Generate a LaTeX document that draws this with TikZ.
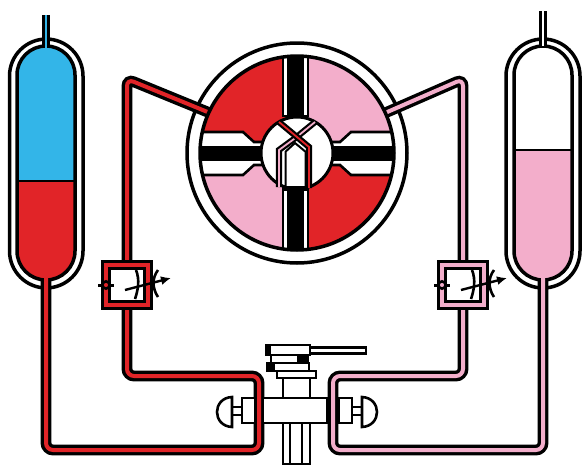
\documentclass[tikz,border=0pt]{standalone}
\usepackage{xcolor}
\usetikzlibrary{arrows.meta}
\definecolor{gasblue}{HTML}{33B5E8}
\definecolor{gasred}{HTML}{E12428}
\definecolor{gaspink}{HTML}{F3AECB}
\begin{document}
\begin{tikzpicture}[
  x=1pt, y=-1pt,
  wall/.style={draw=black, line width=3.5pt},
  thin wall/.style={draw=black, line width=2.6pt},
  tube/.style={line width=3.4pt, double=#1, double distance=4pt, rounded corners=7pt},
  inlet/.style={line width=3pt, double=#1, double distance=2.6pt},
  passage/.style={line width=2.2pt, double=#1, double distance=1.8pt, line join=miter},
  part/.style={thin wall, fill=white},
  needle/.style={-{Latex[length=10pt,width=9pt]}, line width=2.4pt}
]
  \useasboundingbox (0,0) rectangle (582,464);
  \coordinate (valve) at (297,153);
  % vessels
  \draw[wall, fill=white, rounded corners=37pt] (9.5,39) rectangle (83,288);
  \draw[wall, fill=white, rounded corners=37pt] (506,39) rectangle (580,288);
  \begin{scope}
    \clip[rounded corners=29pt] (17,46) rectangle (75,280);
    \fill[gasblue] (17,46) rectangle (75,181);
    \fill[gasred] (17,181) rectangle (75,280);
    \draw[thin wall] (17,181) -- (75,181);
  \end{scope}
  \begin{scope}
    \clip[rounded corners=29pt] (514,46) rectangle (572,280);
    \fill[gaspink] (514,150) rectangle (572,280);
    \draw[thin wall] (514,150) -- (572,150);
  \end{scope}
  \draw[wall, rounded corners=29pt] (17,46) rectangle (75,280);
  \draw[wall, rounded corners=29pt] (514,46) rectangle (572,280);
  \draw[inlet=gasblue] (46,15) -- (46,48);
  \draw[inlet=white] (543,11) -- (543,46);
  % valve housing
  \draw[wall, fill=white] (valve) circle (110pt);
  % lines
  \draw[tube=gasred] (46,278) -- (46,450) -- (259,450) -- (259,376) -- (127,376) -- (127,79) -- (210,113);
  \draw[tube=gaspink] (543,278) -- (543,450) -- (333,450) -- (333,376) -- (463,376) -- (463,79) -- (385,113);
  % meters
  \foreach \mx/\mc in {127/gasred, 463/gaspink} {
    \begin{scope}[xshift=\mx pt]
      \draw[line width=3.4pt, double=\mc, double distance=3.5pt, fill=white] (-21,265) rectangle (21,305);
      \draw[line width=2.6pt, fill=\mc] (-21,285) circle (3.6pt);
      \draw[line width=3pt] (-29,285) -- (-25,285) (-17,285) -- (-13,285);
      \draw[needle] (-2,290) -- (44,278);
      \draw[line width=2.6pt] (9,270) .. controls (13,280) and (11,290) .. (8,299);
      \draw[line width=2.6pt] (31,270) .. controls (25,278) and (25,288) .. (31,297);
    \end{scope}
  }
  % valve disk
  \begin{scope}
    \clip (valve) circle (97pt);
    \fill[gaspink] (valve) circle (97pt);
    \fill[gasred] (190,50) rectangle (296,153);
    \fill[gasred] (296,153) rectangle (400,260);
    % arms
    \draw[part] (190,132) -- (243,132) -- (254,142) -- (266,142) -- (266,165) -- (254,165) -- (243,175) -- (190,175) -- cycle;
    \draw[part] (404,132) -- (351,132) -- (340,142) -- (328,142) -- (328,165) -- (340,165) -- (351,175) -- (404,175) -- cycle;
    \fill[black] (190,146) rectangle (266,161);
    \fill[black] (328,146) rectangle (404,161);
    \draw[part] (283,50) rectangle (308,116);
    \draw[part] (283,186) rectangle (308,256);
    \fill[black] (286.5,50) rectangle (304,116);
    \fill[black] (286.5,187) rectangle (304,256);
  \end{scope}
  \draw[wall] (valve) circle (97pt);
  % hub
  \draw[part, line width=3pt] (valve) circle (36pt);
  \fill[black] (283,186) rectangle (308,191);
  \draw[passage=gaspink] (315,122) -- (296.7,137) -- (279,150) -- (279,187);
  \draw[passage=gasred] (279,122) -- (309,147) -- (309,188);
  \draw[draw=black, line width=2pt, fill=white] (285.5,151.7) -- (295,143) -- (305.5,151.7) -- (305.5,187) -- (285.5,187) -- cycle;
  % tap
  \draw[part] (263,398) rectangle (327,423);
  \draw[part] (242,398) rectangle (255,423);
  \draw[part] (339,398) rectangle (352,423);
  \draw[part] (230,407) rectangle (242,415);
  \draw[part] (352,407) rectangle (363,415);
  \draw[part] (232,397) .. controls (212,398) and (212,426) .. (232,427) -- cycle;
  \draw[part] (362,397) .. controls (382,398) and (382,426) .. (362,427) -- cycle;
  \draw[part] (283,378) rectangle (310,398);
  \draw[part] (283,423) rectangle (310,464);
  \draw[thin wall] (290,423) -- (290,464) (302,423) -- (302,464);
  \draw[part] (277,371) rectangle (316,378);
  \draw[part] (267,363) rectangle (309,371);
  \fill[black] (267,363) rectangle (275,371);
  \draw[part] (271,355) rectangle (308,363);
  \fill[black] (297,355) rectangle (308,363);
  \draw[part] (310,347.5) rectangle (366,353.5);
  \draw[part] (266,345) rectangle (310,355);
  \fill[black] (266,345) rectangle (271,355);
  \fill[white] (273,350) circle (2pt);
\end{tikzpicture}
\end{document}
